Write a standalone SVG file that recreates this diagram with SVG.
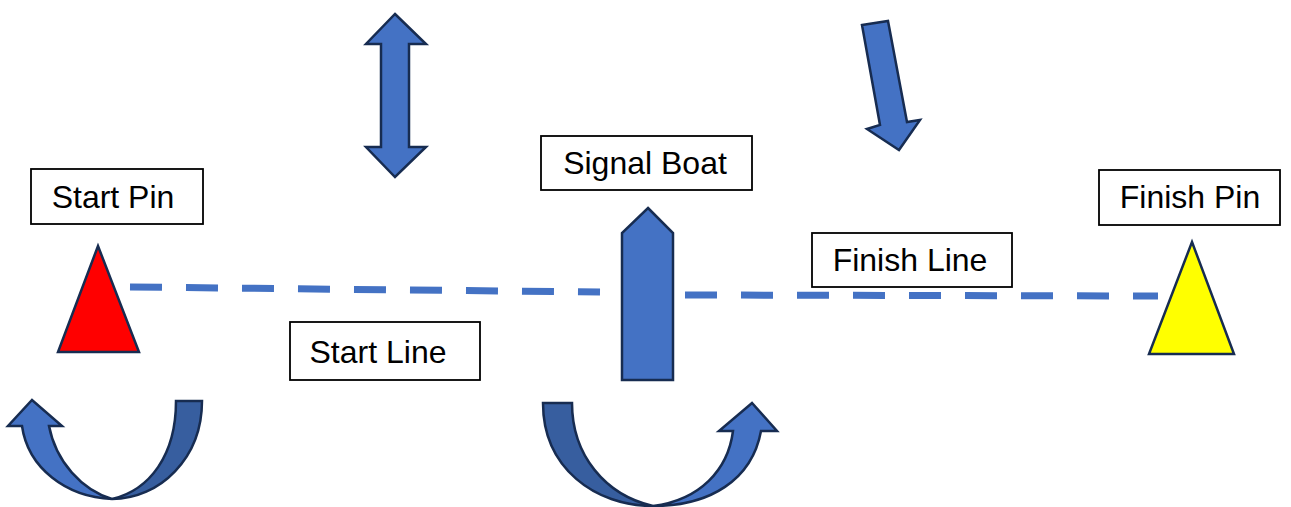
<svg xmlns="http://www.w3.org/2000/svg" width="1291" height="507" viewBox="0 0 1291 507">
<style>
.shape{fill:#4472C4;stroke:#172C51;stroke-width:2.5;stroke-linejoin:miter}
.dark{fill:#375E9F;stroke:#172C51;stroke-width:2.5}
.box{fill:#fff;stroke:#000;stroke-width:1.8}
.lbl{font-family:"Liberation Sans",Arial,sans-serif;font-size:32px;fill:#000;text-anchor:middle}
.line{stroke:#4472C4;stroke-width:7;stroke-dasharray:32 24;fill:none}
</style>
<rect width="1291" height="507" fill="#fff"/>
<g id="connectors">
<path class="line" d="M130,287 L600,292"/>
<path class="line" d="M685,295 L1158,296"/>
</g>
<g id="start-pin-mark"><polygon points="98,246 139,352 58,352" fill="#FF0000" stroke="#172C51" stroke-width="2.5"/></g>
<g id="finish-pin-mark"><polygon points="1192,242 1234,354 1149,354" fill="#FFFF00" stroke="#172C51" stroke-width="2.5"/></g>
<g id="signal-boat-shape"><polygon class="shape" points="648,208 673,233 673,380 622,380 622,233"/></g>
<g id="double-arrow"><polygon class="shape" points="395,14 426,44 409,44 409,147 426,147 395,177 366,147 381,147 381,44 366,44"/></g>
<g id="down-arrow"><polygon class="shape" points="862,25 888,21 907,122 920,120 899,150 867,129 880,125"/></g>
<g id="left-curved-arrow">
<path class="dark" d="M176,401 L202,401 C202,458 160,499 112,499 C150,490 176,455 176,401 Z"/>
<path class="shape" d="M112,499 C66,497 28,468 22,426 L8,426 L32,400 L62,426 L49,426 C56,462 82,490 112,499 Z"/>
</g>
<g id="right-curved-arrow">
<path class="dark" d="M543,403 L572,403 C572,455 605,495 653,506 C595,506 543,468 543,403 Z"/>
<path class="shape" d="M653,506 C700,500 728,470 733,431 L719,431 L752,403 L777,431 L761,431 C752,480 710,506 653,506 Z"/>
</g>
<g id="start-pin"><rect class="box" x="31" y="169" width="172" height="55"/><text class="lbl" x="113" y="208">Start Pin</text></g>
<g id="signal-boat"><rect class="box" x="541" y="136" width="211" height="54"/><text class="lbl" x="645" y="174">Signal Boat</text></g>
<g id="finish-pin"><rect class="box" x="1099" y="170" width="181" height="55"/><text class="lbl" x="1190" y="208">Finish Pin</text></g>
<g id="finish-line"><rect class="box" x="812" y="233" width="200" height="54"/><text class="lbl" x="910" y="271">Finish Line</text></g>
<g id="start-line"><rect class="box" x="290" y="322" width="190" height="58"/><text class="lbl" x="378" y="363">Start Line</text></g>
</svg>
